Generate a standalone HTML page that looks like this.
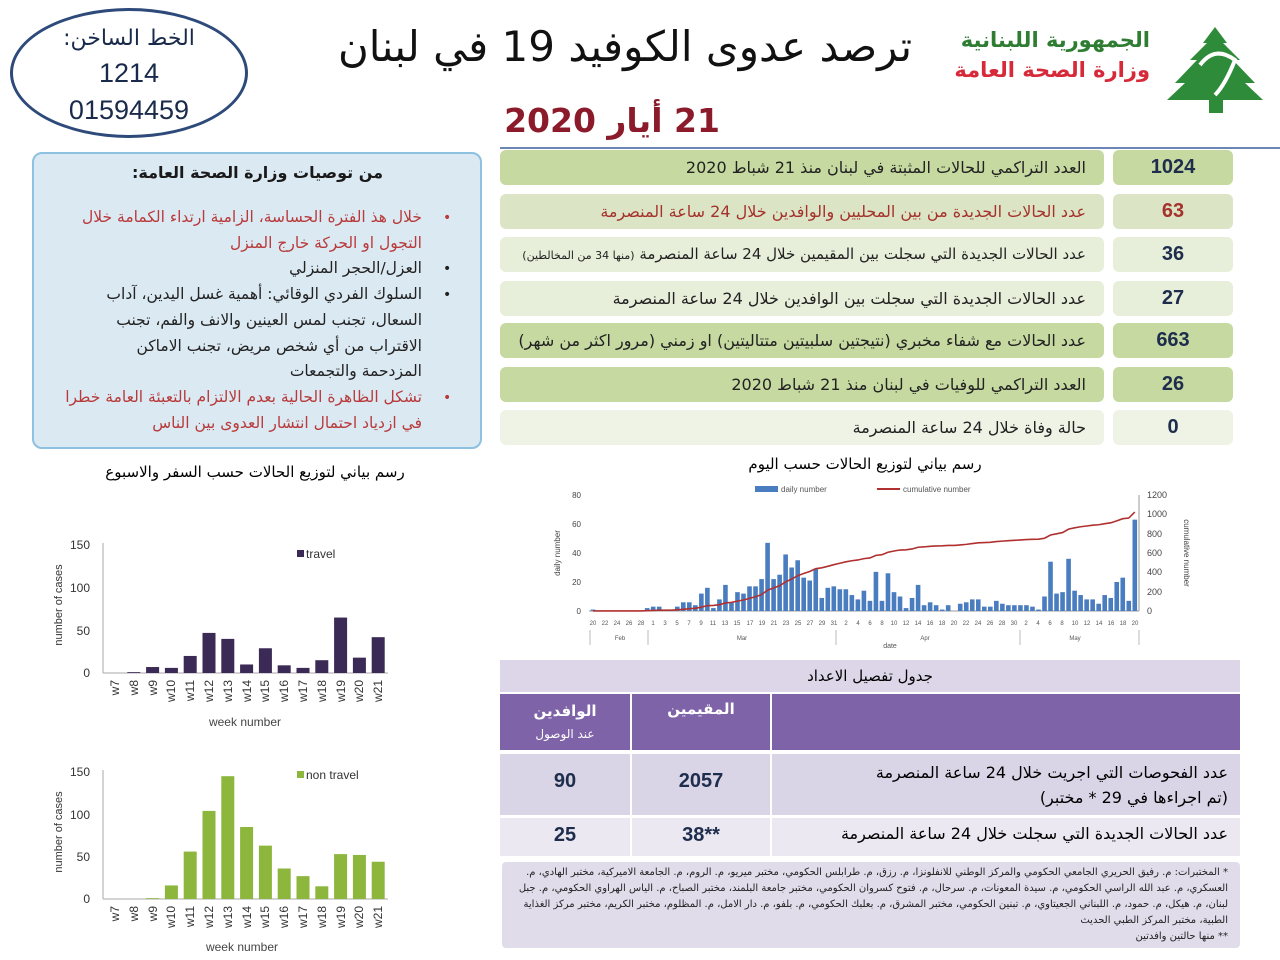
<!DOCTYPE html>
<html><head><meta charset="utf-8">
<style>
body{margin:0;width:1280px;height:960px;background:#fff;position:relative;overflow:hidden;font-family:"DejaVu Sans","Liberation Sans",sans-serif}
.a{position:absolute}
.r{direction:rtl;text-align:right}
.row{position:absolute;left:500px;width:604px;height:35px;border-radius:6px;direction:rtl;font-size:16px;line-height:35px;padding-right:18px;box-sizing:border-box;color:#222;white-space:nowrap}
.num{position:absolute;left:1113px;width:120px;height:35px;border-radius:6px;text-align:center;font:bold 20px/35px "Liberation Sans",sans-serif;color:#1f2d4d}
svg text{font-family:"Liberation Sans",sans-serif}
</style></head><body>

<div class="a" style="left:10px;top:8px;width:232px;height:124px;border:3px solid #2e4a7a;border-radius:50%"></div>
<div class="a" style="left:10px;top:22px;width:238px;text-align:center;font-size:22px;color:#1a2a4a;line-height:34px;direction:rtl">الخط الساخن:<br><span style="font-family:'Liberation Sans';font-size:27px">1214</span><br><span style="font-family:'Liberation Sans';font-size:27px">01594459</span></div>

<div class="a" style="left:320px;top:22px;width:610px;text-align:center;font-size:42px;color:#111;direction:rtl;white-space:nowrap">ترصد عدوى الكوفيد 19 في لبنان</div>
<div class="a" style="left:452px;top:101px;width:320px;text-align:center;font-size:33px;font-weight:bold;color:#8b1a2a;direction:rtl;white-space:nowrap">21 أيار 2020</div>

<div class="a r" style="left:940px;top:28px;width:210px;font-size:21px;font-weight:bold;color:#2e7d32">الجمهورية اللبنانية</div>
<div class="a r" style="left:940px;top:58px;width:210px;font-size:21px;font-weight:bold;color:#d62a3a">وزارة الصحة العامة</div>
<svg class="a" style="left:1165px;top:25px" width="100" height="90"><polygon points="50,2 62,18 58,18 75,35 68,35 90,58 80,58 98,75 2,75 20,58 10,58 32,35 25,35 42,18 38,18" fill="#2e8b3a"/><rect x="44" y="60" width="14" height="28" fill="#2e8b3a"/><path d="M35 40 Q50 20 70 35 Q60 60 50 70" fill="none" stroke="#fff" stroke-width="4"/></svg>
<div class="a" style="left:500px;top:147px;width:780px;height:2px;background:#6b86b5"></div>

<div class="a" style="left:32px;top:152px;width:446px;height:293px;background:#dbe9f3;border:2px solid #8ec0e0;border-radius:10px"></div>
<div class="a r" style="left:60px;top:163px;width:323px;font-size:16px;font-weight:bold;color:#1a1a1a">من توصيات وزارة الصحة العامة:</div>
<div class="a r" style="left:30px;top:205px;width:392px;font-size:15.5px;line-height:25.7px;color:#222;white-space:nowrap">
<div style="color:#b83a3a">خلال هذ الفترة الحساسة، الزامية ارتداء الكمامة خلال<br>التجول او الحركة خارج المنزل</div>
<div>العزل/الحجر المنزلي</div>
<div>السلوك الفردي الوقائي: أهمية غسل اليدين، آداب<br>السعال، تجنب لمس العينين والانف والفم، تجنب<br>الاقتراب من أي شخص مريض، تجنب الاماكن<br>المزدحمة والتجمعات</div>
<div style="color:#b83a3a">تشكل الظاهرة الحالية بعدم الالتزام بالتعبئة العامة خطرا<br>في ازدياد احتمال انتشار العدوى بين الناس</div>
</div>
<div class="a" style="left:443px;top:206px;font-size:14px;color:#b83a3a;line-height:25.7px">•<br><br><span style="color:#222">•<br>•</span><br><br><br><br>•</div>

<div class="row" style="top:150px;background:#c5d9a0">العدد التراكمي للحالات المثبتة في لبنان منذ 21 شباط 2020</div><div class="num" style="top:150px;background:#c5d9a0">1024</div>
<div class="row" style="top:194px;background:#dbe5c5;color:#a5322c">عدد الحالات الجديدة من بين المحليين والوافدين خلال 24 ساعة المنصرمة</div><div class="num" style="top:194px;background:#dbe5c5;color:#a5322c">63</div>
<div class="row" style="top:237px;background:#e7eed9;font-size:15px">عدد الحالات الجديدة التي سجلت بين المقيمين خلال 24 ساعة المنصرمة <span style="font-size:11px">(منها 34 من المخالطين)</span></div><div class="num" style="top:237px;background:#e7eed9">36</div>
<div class="row" style="top:281px;background:#e7eed9">عدد الحالات الجديدة التي سجلت بين الوافدين خلال 24 ساعة المنصرمة</div><div class="num" style="top:281px;background:#e7eed9">27</div>
<div class="row" style="top:323px;background:#c5d9a0">عدد الحالات مع شفاء مخبري (نتيجتين سلبيتين متتاليتين) او زمني (مرور اكثر من شهر)</div><div class="num" style="top:323px;background:#c5d9a0">663</div>
<div class="row" style="top:367px;background:#c5d9a0">العدد التراكمي للوفيات في لبنان منذ 21 شباط 2020</div><div class="num" style="top:367px;background:#c5d9a0">26</div>
<div class="row" style="top:410px;background:#eef3e6">حالة وفاة خلال 24 ساعة المنصرمة</div><div class="num" style="top:410px;background:#eef3e6">0</div>

<div class="a" style="left:660px;top:455px;width:410px;text-align:center;font-size:15px;direction:rtl">رسم بياني لتوزيع الحالات حسب اليوم</div>
<div class="a" style="left:60px;top:463px;width:390px;text-align:center;font-size:15px;direction:rtl">رسم بياني لتوزيع الحالات حسب السفر والاسبوع</div>

<svg class="a" style="left:0;top:0" width="1280" height="960" id="s">
<g font-size="8" fill="#444" text-anchor="end">
<text x="581" y="498">80</text><text x="581" y="527">60</text><text x="581" y="556">40</text><text x="581" y="585">20</text><text x="581" y="614">0</text>
</g>
<g font-size="9" fill="#444">
<text x="1147" y="498">1200</text><text x="1147" y="517">1000</text><text x="1147" y="537">800</text><text x="1147" y="556">600</text><text x="1147" y="575">400</text><text x="1147" y="595">200</text><text x="1147" y="614">0</text>
</g>
<line x1="589" y1="611" x2="1139" y2="611" stroke="#999"/>
<line x1="1139" y1="495" x2="1139" y2="611" stroke="#999"/>
<g id="bars"></g>
<polyline id="cum" fill="none" stroke="#b03030" stroke-width="1.6"/>
<rect x="755" y="486" width="23" height="6" fill="#4a7cc0"/><text x="781" y="492" font-size="8" fill="#555">daily number</text>
<line x1="877" y1="489" x2="900" y2="489" stroke="#b03030" stroke-width="2"/><text x="903" y="492" font-size="8" fill="#555">cumulative number</text>
<text transform="translate(560,553) rotate(-90)" font-size="8" fill="#444" text-anchor="middle">daily number</text>
<text transform="translate(1184,553) rotate(90)" font-size="8" fill="#444" text-anchor="middle">cumulative number</text>
<g font-size="6" fill="#555" text-anchor="middle">
<text x="593" y="625">20</text><text x="605" y="625">22</text><text x="617" y="625">24</text><text x="629" y="625">26</text><text x="641" y="625">28</text>
<text x="653" y="625">1</text><text x="665" y="625">3</text><text x="677" y="625">5</text><text x="689" y="625">7</text><text x="701" y="625">9</text><text x="713" y="625">11</text><text x="725" y="625">13</text><text x="737" y="625">15</text><text x="750" y="625">17</text><text x="762" y="625">19</text><text x="774" y="625">21</text><text x="786" y="625">23</text><text x="798" y="625">25</text><text x="810" y="625">27</text><text x="822" y="625">29</text><text x="834" y="625">31</text>
<text x="846" y="625">2</text><text x="858" y="625">4</text><text x="870" y="625">6</text><text x="882" y="625">8</text><text x="894" y="625">10</text><text x="906" y="625">12</text><text x="918" y="625">14</text><text x="930" y="625">16</text><text x="942" y="625">18</text><text x="954" y="625">20</text><text x="966" y="625">22</text><text x="978" y="625">24</text><text x="990" y="625">26</text><text x="1002" y="625">28</text><text x="1014" y="625">30</text>
<text x="1026" y="625">2</text><text x="1038" y="625">4</text><text x="1050" y="625">6</text><text x="1062" y="625">8</text><text x="1075" y="625">10</text><text x="1087" y="625">12</text><text x="1099" y="625">14</text><text x="1111" y="625">16</text><text x="1123" y="625">18</text><text x="1135" y="625">20</text>
<text x="620" y="640">Feb</text><text x="742" y="640">Mar</text><text x="925" y="640">Apr</text><text x="1075" y="640">May</text>
<text x="890" y="648" font-size="7">date</text>
</g>
<g stroke="#bbb"><line x1="590" y1="630" x2="590" y2="645"/><line x1="648" y1="630" x2="648" y2="645"/><line x1="836" y1="630" x2="836" y2="645"/><line x1="1020" y1="630" x2="1020" y2="645"/><line x1="1139" y1="630" x2="1139" y2="645"/></g>

<g font-size="12" fill="#333" text-anchor="end">
<text x="90" y="549">150</text><text x="90" y="592">100</text><text x="90" y="635">50</text><text x="90" y="677">0</text>
<text x="90" y="776">150</text><text x="90" y="819">100</text><text x="90" y="861">50</text><text x="90" y="903">0</text>
</g>
<line x1="103" y1="543" x2="103" y2="673" stroke="#aaa"/><line x1="103" y1="673" x2="388" y2="673" stroke="#aaa"/>
<line x1="103" y1="770" x2="103" y2="899" stroke="#aaa"/><line x1="103" y1="899" x2="388" y2="899" stroke="#aaa"/>
<g id="tb" fill="#3b2a55"></g><g id="nb" fill="#8db63c"></g>
<rect x="297" y="550" width="7" height="7" fill="#3b2a55"/><text x="306" y="558" font-size="12" fill="#333">travel</text>
<rect x="297" y="771" width="7" height="7" fill="#8db63c"/><text x="306" y="779" font-size="12" fill="#333">non travel</text>
<text transform="translate(62,605) rotate(-90)" font-size="11" fill="#333" text-anchor="middle">number of cases</text>
<text transform="translate(62,832) rotate(-90)" font-size="11" fill="#333" text-anchor="middle">number of cases</text>
<text x="245" y="726" font-size="12" fill="#444" text-anchor="middle">week number</text>
<text x="242" y="951" font-size="12" fill="#444" text-anchor="middle">week number</text>
<g font-size="12" fill="#333" text-anchor="end">
<text transform="translate(119,680) rotate(-90)">w7</text><text transform="translate(138,680) rotate(-90)">w8</text><text transform="translate(157,680) rotate(-90)">w9</text><text transform="translate(175,680) rotate(-90)">w10</text><text transform="translate(194,680) rotate(-90)">w11</text><text transform="translate(213,680) rotate(-90)">w12</text><text transform="translate(232,680) rotate(-90)">w13</text><text transform="translate(251,680) rotate(-90)">w14</text><text transform="translate(269,680) rotate(-90)">w15</text><text transform="translate(288,680) rotate(-90)">w16</text><text transform="translate(307,680) rotate(-90)">w17</text><text transform="translate(326,680) rotate(-90)">w18</text><text transform="translate(345,680) rotate(-90)">w19</text><text transform="translate(363,680) rotate(-90)">w20</text><text transform="translate(382,680) rotate(-90)">w21</text>
<text transform="translate(119,906) rotate(-90)">w7</text><text transform="translate(138,906) rotate(-90)">w8</text><text transform="translate(157,906) rotate(-90)">w9</text><text transform="translate(175,906) rotate(-90)">w10</text><text transform="translate(194,906) rotate(-90)">w11</text><text transform="translate(213,906) rotate(-90)">w12</text><text transform="translate(232,906) rotate(-90)">w13</text><text transform="translate(251,906) rotate(-90)">w14</text><text transform="translate(269,906) rotate(-90)">w15</text><text transform="translate(288,906) rotate(-90)">w16</text><text transform="translate(307,906) rotate(-90)">w17</text><text transform="translate(326,906) rotate(-90)">w18</text><text transform="translate(345,906) rotate(-90)">w19</text><text transform="translate(363,906) rotate(-90)">w20</text><text transform="translate(382,906) rotate(-90)">w21</text>
</g>
</svg>

<div class="a" style="left:500px;top:660px;width:740px;height:32px;background:#dcd6e8;text-align:center;font-size:15px;line-height:32px;direction:rtl">جدول تفصيل الاعداد</div>
<div class="a" style="left:500px;top:694px;width:740px;height:56px;background:#7f63a8"></div>
<div class="a" style="left:630px;top:694px;width:2px;height:56px;background:#fff"></div>
<div class="a" style="left:770px;top:694px;width:2px;height:56px;background:#fff"></div>
<div class="a" style="left:500px;top:700px;width:130px;text-align:center;color:#fff;font-size:15px;font-weight:bold;line-height:22px">الوافدين<br><span style="font-size:12px;font-weight:normal">عند الوصول</span></div>
<div class="a" style="left:632px;top:700px;width:138px;text-align:center;color:#fff;font-size:15px;font-weight:bold">المقيمين</div>
<div class="a" style="left:500px;top:754px;width:740px;height:61px;background:#d9d4e6"></div>
<div class="a" style="left:500px;top:818px;width:740px;height:38px;background:#ebe8f1"></div>
<div class="a" style="left:630px;top:754px;width:2px;height:102px;background:#fff"></div>
<div class="a" style="left:770px;top:754px;width:2px;height:102px;background:#fff"></div>
<div class="a" style="left:500px;top:816px;width:740px;height:2px;background:#fff"></div>
<div class="a" style="left:500px;top:770px;width:130px;text-align:center;font:bold 20px 'Liberation Sans',sans-serif;color:#1f2d4d">90</div>
<div class="a" style="left:632px;top:770px;width:138px;text-align:center;font:bold 20px 'Liberation Sans',sans-serif;color:#1f2d4d">2057</div>
<div class="a" style="left:500px;top:824px;width:130px;text-align:center;font:bold 20px 'Liberation Sans',sans-serif;color:#1f2d4d">25</div>
<div class="a" style="left:632px;top:824px;width:138px;text-align:center;font:bold 20px 'Liberation Sans',sans-serif;color:#1f2d4d">38**</div>
<div class="a r" style="left:780px;top:760px;width:448px;font-size:16px;line-height:25px">عدد الفحوصات التي اجريت خلال 24 ساعة المنصرمة<br>(تم اجراءها في 29 * مختبر)</div>
<div class="a r" style="left:780px;top:824px;width:448px;font-size:16px">عدد الحالات الجديدة التي سجلت خلال 24 ساعة المنصرمة</div>
<div class="a r" style="left:502px;top:862px;width:738px;height:86px;background:#e0dcea;border-radius:4px;font-size:10px;line-height:16px;padding:3px 12px;box-sizing:border-box;color:#222">* المختبرات: م. رفيق الحريري الجامعي الحكومي والمركز الوطني للانفلونزا، م. رزق، م. طرابلس الحكومي، مختبر ميريو، م. الروم، م. الجامعة الاميركية، مختبر الهادي، م. العسكري، م. عبد الله الراسي الحكومي، م. سيدة المعونات، م. سرحال، م. فتوح كسروان الحكومي، مختبر جامعة البلمند، مختبر الصباح، م. الياس الهراوي الحكومي، م. جبل لبنان، م. هيكل، م. حمود، م. اللبناني الجعيتاوي، م. تبنين الحكومي، مختبر المشرق، م. بعلبك الحكومي، م. بلفو، م. دار الامل، م. المظلوم، مختبر الكريم، مختبر مركز الغذاية الطبية، مختبر المركز الطبي الحديث<br>** منها حالتين وافدتين</div>

<script>
var d=[1,0,0,0,0,0,0,0,0,2, 3,3,0,0,3,6,6,4,12,16,2,8,18,6,13,12,17,17,22,47,22,25,39,30,35,23,21,29,9,16,17,
15,15,11,8,14,7,27,7,26,13,10,2,9,18,4,6,4,1,4,0,5,6,8,8,3,3,7,5,4,4,
4,4,3,1,10,34,12,13,36,14,11,8,8,5,11,9,20,23,7,63];
var ns="http://www.w3.org/2000/svg",g=document.getElementById('bars'),c=0,pts=[];
var tot=d.reduce(function(a,b){return a+b},0),k=1024/tot;
for(var i=0;i<d.length;i++){var x=593+i*6.02;c+=d[i];
var r=document.createElementNS(ns,'rect');r.setAttribute('x',x-2.3);r.setAttribute('width',4.6);
r.setAttribute('y',611-d[i]*1.45);r.setAttribute('height',d[i]*1.45);r.setAttribute('fill','#4a7cc0');g.appendChild(r);
pts.push(x+','+(611-c*k*116/1200));}
document.getElementById('cum').setAttribute('points',pts.join(' '));
function bars(id,vals,base,s){var G=document.getElementById(id);vals.forEach(function(v,i){var r=document.createElementNS(ns,'rect');var x=115+18.8*i;
r.setAttribute('x',x-6.5);r.setAttribute('width',13);r.setAttribute('y',base-v*s);r.setAttribute('height',v*s);G.appendChild(r);});}
bars('tb',[0,1,7,6,20,47,40,10,29,9,6,15,65,18,42],673,0.853);
bars('nb',[0,0,1,16,56,104,145,85,63,36,27,15,53,52,44],899,0.847);
</script>
</body></html>
